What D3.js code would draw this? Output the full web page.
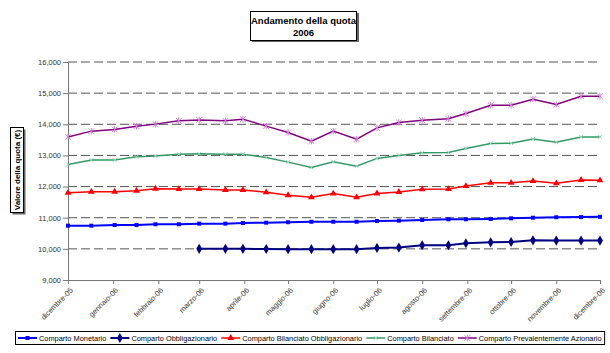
<!DOCTYPE html>
<html>
<head>
<meta charset="utf-8">
<script src="https://cdn.jsdelivr.net/npm/d3@7"></script>
<style>
    body { margin: 0; background: #fff; }
    text { font-family: "Liberation Sans", Arial, sans-serif; }
</style>
</head>
<body>
<svg width="610" height="353"></svg>
<script>
// valori (quota in euro)
var dates = ["2005-12-01", "2005-12-17", "2006-01-02", "2006-01-17", "2006-01-30", "2006-02-15",
    "2006-03-01", "2006-03-19", "2006-03-31", "2006-04-16", "2006-05-01", "2006-05-17",
    "2006-06-01", "2006-06-17", "2006-07-01", "2006-07-16", "2006-08-01", "2006-08-19",
    "2006-08-31", "2006-09-17", "2006-10-01", "2006-10-16", "2006-11-01", "2006-11-18", "2006-12-01"];

var monetario = [10745, 10745, 10765, 10765, 10790, 10790, 10810, 10810, 10830, 10840, 10855, 10870,
    10870, 10870, 10895, 10905, 10925, 10950, 10950, 10960, 10980, 11000, 11015, 11020, 11030];

var obbligazionario = [null, null, null, null, null, null, 10000, 10000, 10000, 9995, 9990, 9990,
    9990, 9990, 10030, 10040, 10115, 10115, 10180, 10210, 10220, 10275, 10265, 10265, 10265];

var bilanciatoObb = [11800, 11835, 11835, 11865, 11930, 11920, 11920, 11890, 11890, 11815, 11720, 11655,
    11775, 11655, 11780, 11825, 11910, 11920, 12015, 12120, 12120, 12175, 12105, 12210, 12200];

var bilanciato = [12710, 12850, 12850, 12955, 12980, 13040, 13050, 13040, 13040, 12935, 12785, 12615,
    12795, 12655, 12905, 13000, 13085, 13095, 13225, 13385, 13395, 13530, 13425, 13595, 13595];

var azionario = [13595, 13780, 13835, 13940, 14005, 14110, 14140, 14110, 14165, 13940, 13735, 13460,
    13780, 13520, 13885, 14060, 14130, 14175, 14345, 14610, 14610, 14805, 14635, 14900, 14900];

var seriesNames = ["Comparto Monetario", "Comparto Obbligazionario", "Comparto Bilanciato Obbligazionario",
    "Comparto Bilanciato", "Comparto Prevalentemente Azionario"];

var yTicks = [9000, 10000, 11000, 12000, 13000, 14000, 15000, 16000];
var mesi = ["gennaio", "febbraio", "marzo", "aprile", "maggio", "giugno", "luglio",
    "agosto", "settembre", "ottobre", "novembre", "dicembre"];

var parse = d3.timeParse("%Y-%m-%d");
var xDates = dates.map(parse);

var series = [
    { name: seriesNames[0], values: monetario, color: "#0000ff", width: 2, marker: "square", mcolor: "#0000ff" },
    { name: seriesNames[1], values: obbligazionario, color: "#000080", width: 2, marker: "diamond", mcolor: "#000080" },
    { name: seriesNames[2], values: bilanciatoObb, color: "#ff0000", width: 1.5, marker: "triangle", mcolor: "#ff0000" },
    { name: seriesNames[3], values: bilanciato, color: "#339966", width: 1.5, marker: "x", mcolor: "#9ad6b8" },
    { name: seriesNames[4], values: azionario, color: "#800080", width: 1.5, marker: "star", mcolor: "#d080d0" }
];

var svg = d3.select("svg");

var x = d3.scaleTime()
    .domain([parse("2005-12-01"), parse("2006-12-01")])
    .range([68, 600]);

var y = d3.scaleLinear()
    .domain([9000, 16000])
    .range([280, 62]);

// griglia tratteggiata
svg.append("g").selectAll("line")
    .data(yTicks.slice(1))
    .enter().append("line")
    .attr("x1", 68).attr("x2", 600)
    .attr("y1", function (d) { return y(d); })
    .attr("y2", function (d) { return y(d); })
    .attr("stroke", "#555")
    .attr("stroke-width", 1)
    .attr("stroke-dasharray", "9,4");

// asse y
var yAxis = svg.append("g")
    .attr("transform", "translate(68,0)")
    .call(d3.axisLeft(y).tickValues(yTicks).tickSize(5).tickPadding(2).tickFormat(d3.format(",")));
yAxis.select(".domain").attr("stroke", "#777");
yAxis.selectAll(".tick line").attr("stroke", "#777");
yAxis.selectAll("text").attr("font-size", "7.5px").attr("fill", "#333").attr("font-family", null);

// asse x
var xAxis = svg.append("g")
    .attr("transform", "translate(0,280)")
    .call(d3.axisBottom(x).ticks(d3.timeMonth.every(1)).tickSize(4)
        .tickFormat(function (d) { return mesi[d.getMonth()] + "-" + d3.timeFormat("%y")(d); }));
xAxis.select(".domain").attr("stroke", "#777");
xAxis.selectAll(".tick line").attr("stroke", "#777");
xAxis.selectAll("text")
    .attr("font-size", "7.5px").attr("fill", "#333").attr("font-family", null)
    .attr("text-anchor", "end")
    .attr("x", 3).attr("y", 9).attr("dy", "0.35em")
    .attr("transform", "rotate(-45, 3, 9)");

// linee
var line = d3.line()
    .defined(function (d) { return d.v != null; })
    .x(function (d) { return x(d.date); })
    .y(function (d) { return y(d.v); });

function markerPath(type) {
    if (type == "square") return d3.symbol(d3.symbolSquare, 16)();
    if (type == "diamond") return d3.symbol(d3.symbolDiamond, 30)();
    if (type == "triangle") return d3.symbol(d3.symbolTriangle, 20)();
    if (type == "x") return "M-2,-2L2,2M-2,2L2,-2";
    return "M-2.8,-2.8L2.8,2.8M-2.8,2.8L2.8,-2.8M0,-3.2L0,3.2";
}

series.forEach(function (s) {
    var pts = xDates.map(function (d, i) { return { date: d, v: s.values[i] }; });
    var g = svg.append("g");
    g.append("path")
        .attr("d", line(pts))
        .attr("fill", "none")
        .attr("stroke", s.color)
        .attr("stroke-width", s.width);
    var filled = (s.marker == "square" || s.marker == "diamond" || s.marker == "triangle");
    g.selectAll(".m")
        .data(pts.filter(function (p) { return p.v != null; }))
        .enter().append("path")
        .attr("transform", function (p) { return "translate(" + x(p.date) + "," + y(p.v) + ")"; })
        .attr("d", markerPath(s.marker))
        .attr("fill", filled ? s.mcolor : "none")
        .attr("stroke", s.mcolor)
        .attr("stroke-width", filled ? 0 : 1);
});

// titolo
svg.append("rect").attr("x", 252).attr("y", 13).attr("width", 107).attr("height", 29).attr("fill", "#666");
svg.append("rect").attr("x", 250.5).attr("y", 11.5).attr("width", 106).attr("height", 29)
    .attr("fill", "#fff").attr("stroke", "#000").attr("stroke-width", 1);
svg.append("text").attr("x", 303.5).attr("y", 24).attr("text-anchor", "middle")
    .attr("font-size", "9.5px").attr("font-weight", "bold").text("Andamento della quota");
svg.append("text").attr("x", 303.5).attr("y", 36).attr("text-anchor", "middle")
    .attr("font-size", "9.5px").attr("font-weight", "bold").text("2006");

// titolo asse y
svg.append("rect").attr("x", 12.5).attr("y", 129.5).attr("width", 13).attr("height", 85).attr("fill", "#666");
svg.append("rect").attr("x", 10.5).attr("y", 127.5).attr("width", 13).attr("height", 85)
    .attr("fill", "#fff").attr("stroke", "#000").attr("stroke-width", 1);
svg.append("text")
    .attr("transform", "translate(20,170) rotate(-90)")
    .attr("text-anchor", "middle")
    .attr("font-size", "8px").attr("font-weight", "bold")
    .text("Valore della quota (€)");

// legenda
var leg = svg.append("g");
var legBox = leg.append("rect").attr("x", 15.5).attr("y", 331.5).attr("height", 13)
    .attr("fill", "#fff").attr("stroke", "#000").attr("stroke-width", 1);
var lx = 18;
series.forEach(function (s) {
    var ly = 338;
    leg.append("line").attr("x1", lx).attr("x2", lx + 19).attr("y1", ly).attr("y2", ly)
        .attr("stroke", s.color).attr("stroke-width", s.width);
    var filled = (s.marker == "square" || s.marker == "diamond" || s.marker == "triangle");
    leg.append("path")
        .attr("transform", "translate(" + (lx + 9.5) + "," + ly + ")")
        .attr("d", markerPath(s.marker))
        .attr("fill", filled ? s.mcolor : "none")
        .attr("stroke", s.mcolor)
        .attr("stroke-width", filled ? 0 : 1);
    var t = leg.append("text").attr("x", lx + 21).attr("y", ly + 2.6)
        .attr("font-size", "7.4px").text(s.name);
    lx = lx + 21 + t.node().getComputedTextLength() + 4;
});
legBox.attr("width", lx - 15.5 - 1);
</script>
</body>
</html>
